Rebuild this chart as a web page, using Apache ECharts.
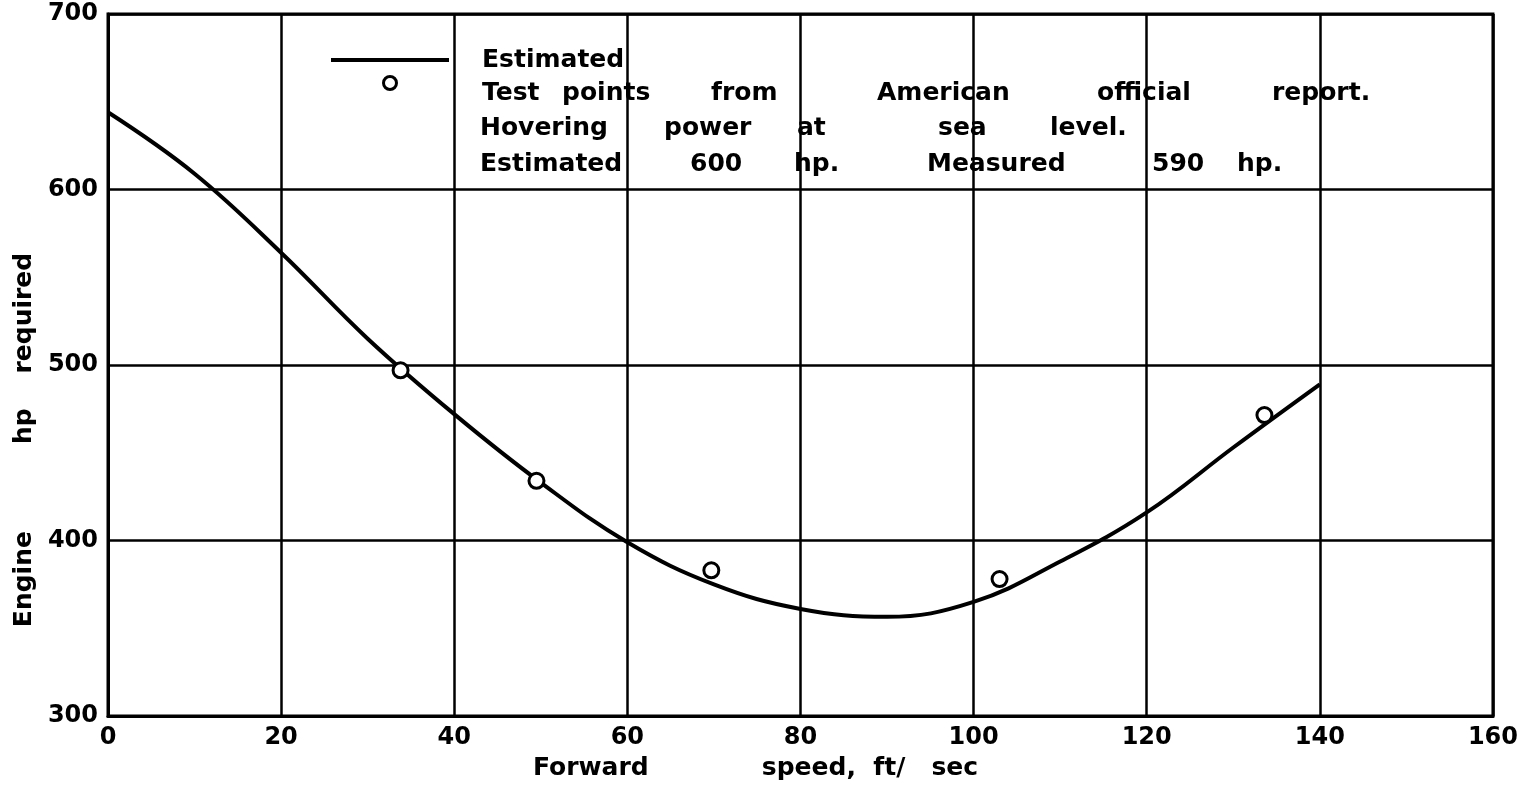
<!DOCTYPE html>
<html>
<head>
<meta charset="utf-8">
<script src="https://cdn.jsdelivr.net/npm/echarts@6/dist/echarts.min.js"></script>
<style>
html,body{margin:0;padding:0;background:#fff;}
#chart{width:1521px;height:789px;}
</style>
</head>
<body>
<div id="chart"></div>
<script>
// ---- data ----
const estSpeed = [0, 10, 20, 30, 40, 50, 60, 70, 80, 90, 100, 110, 120, 130, 140];
const estPower = [644, 609, 564, 515, 472, 433, 399, 375, 361, 356.5, 365, 388, 416, 453, 489];
const testSpeed = [33.8, 49.5, 69.7, 103, 133.6];
const testPower = [497, 434, 383, 378, 471.5];
const xTicks = [0, 20, 40, 60, 80, 100, 120, 140, 160];
const yTicks = [300, 400, 500, 600, 700];
const seriesNames = ['Estimated', 'Test points from American official report.'];
const noteLines = ['Hovering power at sea level.', 'Estimated 600 hp. Measured 590 hp.'];
const xTitle = 'Forward             speed,  ft/   sec';
const yTitle = 'Engine          hp    required';

const FONT = 'DejaVu Sans';
const FS = 25;
const FW = 'bold';

function pairs(xs, ys) { return xs.map((x, i) => [x, ys[i]]); }

// word widths used to space the hand-lettered text
function richLine(words, prefix) {
  return words.map((w, i) => '{' + prefix + i + '|' + w + '}').join('');
}
function richStyles(widths, prefix) {
  const r = {};
  widths.forEach((wd, i) => {
    r[prefix + i] = { fontFamily: FONT, fontSize: FS, fontWeight: FW, color: '#000' };
    if (wd) r[prefix + i].width = wd;
  });
  return r;
}

const l1W = [null];
const l2W = [80, 149, 166, 220, 175, null];
const l3W = [184, 133, 141, 112, null];
const l4W = [210, 104, 133, 225, 85, null];

const rich = Object.assign({}, richStyles(l2W, 'b'), richStyles(l1W, 'a'));

const chart = echarts.init(document.getElementById('chart'), null, { renderer: 'canvas' });

const tickLabel = { fontFamily: FONT, fontSize: 24, fontWeight: FW, color: '#000' };

const option = {
  backgroundColor: '#fff',
  animation: false,
  textStyle: { fontFamily: FONT, color: '#000' },
  grid: { left: 108, right: 27, top: 14, bottom: 73, show: true, borderColor: '#000', borderWidth: 3, backgroundColor: 'transparent' },
  legend: {
    orient: 'vertical',
    left: 329,
    top: 47,
    padding: 0,
    itemWidth: 118,
    itemHeight: 13,
    itemGap: -13,
    selectedMode: false,
    data: [
      { name: seriesNames[0], itemStyle: { opacity: 0 }, lineStyle: { width: 4, color: '#000' }, textStyle: { padding: [0, 0, 0, 28], lineHeight: 26 } },
      { name: seriesNames[1], itemStyle: { color: '#fff', borderColor: '#000', borderWidth: 3 }, textStyle: { padding: [20, 0, 0, 28], lineHeight: 26 } }
    ],
    textStyle: { fontFamily: FONT, fontSize: FS, fontWeight: FW, color: '#000', lineHeight: 26, rich: rich },
    formatter: function (name) {
      if (name === seriesNames[0]) return '{a0|' + name + '}';
      return richLine(name.split(' '), 'b');
    }
  },
  xAxis: {
    type: 'value',
    min: 0, max: 160, interval: 20,
    name: xTitle,
    nameLocation: 'middle',
    nameGap: 40,
    nameTextStyle: { fontFamily: FONT, fontSize: FS, fontWeight: FW, color: '#000', padding: [0, 90, 0, 0] },
    axisLine: { show: true, lineStyle: { color: '#000', width: 3 } },
    axisTick: { show: false },
    axisLabel: Object.assign({ margin: 10 }, tickLabel),
    splitLine: { show: true, lineStyle: { color: '#000', width: 2.5 } }
  },
  yAxis: {
    type: 'value',
    min: 300, max: 700, interval: 100,
    name: yTitle,
    nameLocation: 'middle',
    nameGap: 60,
    nameRotate: 90,
    nameTextStyle: { fontFamily: FONT, fontSize: FS, fontWeight: FW, color: '#000', padding: [0, 150, 0, 0] },
    axisLine: { show: true, lineStyle: { color: '#000', width: 3 } },
    axisTick: { show: false },
    axisLabel: Object.assign({ margin: 10 }, tickLabel),
    splitLine: { show: true, lineStyle: { color: '#000', width: 2.5 } }
  },
  graphic: [
    {
      type: 'text', left: 480, top: 116, silent: true,
      style: { text: richLine(noteLines[0].split(' '), 'c'), rich: richStyles(l3W, 'c'), font: FW + ' ' + FS + 'px "' + FONT + '"', fill: '#000' }
    },
    {
      type: 'text', left: 480, top: 152, silent: true,
      style: { text: richLine(noteLines[1].split(' '), 'd'), rich: richStyles(l4W, 'd'), font: FW + ' ' + FS + 'px "' + FONT + '"', fill: '#000' }
    }
  ],
  series: [
    {
      name: seriesNames[0],
      type: 'line',
      data: pairs(estSpeed, estPower),
      smooth: 0.4,
      showSymbol: false,
      symbol: 'none',
      lineStyle: { color: '#000', width: 4 },
      itemStyle: { color: '#000' },
      z: 3
    },
    {
      name: seriesNames[1],
      type: 'scatter',
      data: pairs(testSpeed, testPower),
      symbol: 'circle',
      symbolSize: 15,
      itemStyle: { color: '#fff', borderColor: '#000', borderWidth: 3, opacity: 1 },
      z: 4
    }
  ]
};
chart.setOption(option);
</script>
</body>
</html>
